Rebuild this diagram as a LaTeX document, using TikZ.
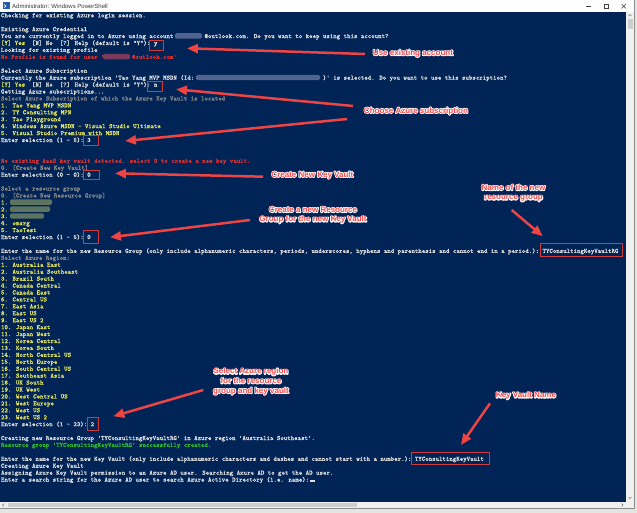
\documentclass[tikz,border=0pt]{standalone}
\usepackage{fontspec}
\setmainfont{Liberation Sans}
\newfontfamily\cons{lmmono10-regular}[Extension=.otf, AutoFakeBold=1.0]
\usetikzlibrary{arrows.meta,calc}
\definecolor{psbg}{HTML}{012456}
\definecolor{psfg}{HTML}{E2E2E2}
\definecolor{psyel}{HTML}{E8E85E}
\definecolor{psred}{HTML}{E03232}
\definecolor{psgray}{HTML}{8C8C8C}
\definecolor{psgreen}{HTML}{30C030}
\definecolor{boxred}{HTML}{D03A3A}
\definecolor{labred}{HTML}{FF4545}
\definecolor{arrred}{HTML}{EE4444}
\definecolor{framec}{HTML}{E2E5E0}
\definecolor{sbc}{HTML}{F0F0F0}
\definecolor{thumbc}{HTML}{CDCDCD}
\definecolor{blurwc}{HTML}{50648F}
\definecolor{blurrc}{HTML}{7A3A5E}
\definecolor{bluryc}{HTML}{5D7560}
\definecolor{iconc}{HTML}{285AAA}
\newcommand\LY[1]{17.3+6.93*#1}
\newcommand\yl[1]{\textcolor{psyel}{#1}}
\newcommand\halo[1]{\leavevmode\rlap{\color{white}\special{pdf:literal direct 1 Tr 1.7 w 1 j 1 J}#1\special{pdf:literal direct 0 Tr}}{\color{labred}#1}}
\begin{document}
\begin{tikzpicture}[x=1pt,y=-1pt,
  ln/.style={anchor=base west, inner sep=0pt, outer sep=0pt, font=\cons\bfseries\fontsize{6.57}{6.93}\selectfont, text=psfg},
  inbox/.style={draw=boxred, line width=0.9pt, anchor=north west, inner sep=0pt, outer sep=0pt},
  lab/.style={font=\fontsize{8}{9.6}\selectfont\bfseries, align=center, inner sep=0pt},
  arr/.style={draw=arrred, line width=2.5pt, -{Triangle[length=11pt,width=9pt]}},
  ctl/.style={draw=black!75, line width=0.5pt},
  sbarrow/.style={draw=black!55, line width=0.5pt}]
\useasboundingbox (0,0) rectangle (637,513);
% window frame
\fill[framec] (0,0) rectangle (637,513);
\fill[white] (0,0) rectangle (634,12);
\fill[psbg] (0,12) rectangle (626,502);
\fill[sbc] (626,12) rectangle (634,508);
\fill[sbc] (0,502) rectangle (626,508);
\fill[thumbc] (627.5,19) rectangle (632.5,29);
\fill[thumbc] (8,503.3) rectangle (357,506.7);
\draw[sbarrow] (628.5,16) -- (630,14.5) -- (631.5,16);
\draw[sbarrow] (628.5,497) -- (630,498.5) -- (631.5,497);
\draw[sbarrow] (4,503.5) -- (2.5,505) -- (4,506.5);
\draw[sbarrow] (621.5,503.5) -- (623,505) -- (621.5,506.5);
\draw[black!45, line width=0.8pt] (634.4,0) -- (634.4,508.4) -- (0,508.4);
% title bar
\fill[iconc] (2.5,2.5) rectangle (9.5,9.5);
\draw[white, line width=0.6pt] (4,4.3) -- (6,6) -- (4,7.7);
\node[anchor=west, font=\fontsize{6}{7}\selectfont, text=black!78, inner sep=0pt] (title) at (12,6) {Administrator: Windows PowerShell};
\draw[ctl] (586,6.3) -- (591,6.3);
\draw[ctl] (604,3.8) rectangle (608.5,8.3);
\draw[ctl] (621.5,4) -- (626,8.5) (626,4) -- (621.5,8.5);
% console text
\node[ln] (L0) at (1,\LY{0}) {Checking for existing Azure login session.};
\node[ln] (L2) at (1,\LY{2}) {Existing Azure Credential};
\node[ln] (L3) at (1,\LY{3}) {You are currently logged in to Azure using account \phantom{xxxxxxxx}@outlook.com. Do you want to keep using this account?};
\node[ln] (L4) at (1,\LY{4}) {\yl{[Y] Yes}~~[N] No~~[?] Help (default is "Y"):~y};
\node[ln] (L5) at (1,\LY{5}) {Looking for existing profile};
\node[ln, text=psred] (L6) at (1,\LY{6}) {No Profile is found for user '\phantom{xxxxxxxx}@outlook.com'};
\node[ln] (L8) at (1,\LY{8}) {Select Azure Subscription};
\node[ln] (L9) at (1,\LY{9}) {Currently the Azure subscription 'Tao Yang MVP MSDN (Id: \phantom{xxxxxxxxxxxxxxxxxxxxxxxxxxxxxxxxxxxx})' is selected. Do you want to use this subscription?};
\node[ln] (L10) at (1,\LY{10}) {\yl{[Y] Yes}~~[N] No~~[?] Help (default is "Y"):~n};
\node[ln] (L11) at (1,\LY{11}) {Getting Azure subscriptions...};
\node[ln, text=psgray] (L12) at (1,\LY{12}) {Select Azure Subscription of which the Azure Key Vault is located};
\node[ln, text=psyel] (L13) at (1,\LY{13}) {1. Tao Yang MVP MSDN};
\node[ln, text=psyel] (L14) at (1,\LY{14}) {2. TY Consulting MPN};
\node[ln, text=psyel] (L15) at (1,\LY{15}) {3. Tao Playground};
\node[ln, text=psyel] (L16) at (1,\LY{16}) {4. Windows Azure MSDN - Visual Studio Ultimate};
\node[ln, text=psyel] (L17) at (1,\LY{17}) {5. Visual Studio Premium with MSDN};
\node[ln] (L18) at (1,\LY{18}) {Enter selection (1 - 5):~3};
\node[ln, text=psred] (L21) at (1,\LY{21}) {No existing AaaS key vault detected. select 0 to create a new key vault.};
\node[ln, text=psgray] (L22) at (1,\LY{22}) {0. [Create New Key Vault]};
\node[ln] (L23) at (1,\LY{23}) {Enter selection (0 - 0):~0};
\node[ln, text=psgray] (L25) at (1,\LY{25}) {Select a resource group};
\node[ln, text=psgray] (L26) at (1,\LY{26}) {0. [Create New Resource Group]};
\node[ln, text=psyel] (L27) at (1,\LY{27}) {1.};
\node[ln, text=psyel] (L28) at (1,\LY{28}) {2.};
\node[ln, text=psyel] (L29) at (1,\LY{29}) {3.};
\node[ln, text=psyel] (L30) at (1,\LY{30}) {4. omsrg};
\node[ln, text=psyel] (L31) at (1,\LY{31}) {5. TaoTest};
\node[ln] (L32) at (1,\LY{32}) {Enter selection (1 - 5):~0};
\node[ln] (L34) at (1,\LY{34}) {Enter the name for the new Resource Group (only include alphanumeric characters, periods, underscores, hyphens and parenthesis and cannot end in a period.):~TYConsultingKeyVaultRG};
\node[ln, text=psgray] (L35) at (1,\LY{35}) {Select Azure Region:};
\foreach \nm [count=\i] in {Australia East, Australia Southeast, Brazil South, Canada Central, Canada East, Central US, East Asia, East US, East US 2, Japan East, Japan West, Korea Central, Korea South, North Central US, North Europe, South Central US, Southeast Asia, UK South, UK West, West Central US, West Europe, West US, West US 2}
  {\node[ln, text=psyel] (reg\i) at (1,{17.3+6.93*(35+\i)}) {\i. \nm};}
\node[ln] (L59) at (1,\LY{59}) {Enter selection (1 - 23):~2};
\node[ln] (L61) at (1,\LY{61}) {Creating new Resource Group 'TYConsultingKeyVaultRG' in Azure region 'Australia Southeast'.};
\node[ln, text=psgreen] (L62) at (1,\LY{62}) {Resource group 'TYConsultingKeyVaultRG' successfully created.};
\node[ln] (L64) at (1,\LY{64}) {Enter the name for the new Key Vault (only include alphanumeric characters and dashes and cannot start with a number.):~TYConsultingKeyVault};
\node[ln] (L65) at (1,\LY{65}) {Creating Azure Key Vault};
\node[ln] (L66) at (1,\LY{66}) {Assigning Azure Key Vault permission to an Azure AD user. Searching Azure AD to get the AD user.};
\node[ln] (L67) at (1,\LY{67}) {Enter a search string for the Azure AD user to search Azure Active Directory (i.e. name):};
\fill[psfg] (310,480.2) rectangle (314.5,482);
% blurred parts
\fill[blurwc, rounded corners=1.5pt] (175,33.2) rectangle (202,38.6);
\fill[blurrc, rounded corners=1.5pt] (103,54) rectangle (130,59.4);
\fill[blurwc, rounded corners=1.5pt] (196,74.8) rectangle (320,80.2);
\fill[bluryc, rounded corners=1.5pt] (10,199.5) rectangle (52,204.9);
\fill[bluryc, rounded corners=1.5pt] (10,206.4) rectangle (50,211.8);
\fill[bluryc, rounded corners=1.5pt] (10,213.3) rectangle (44,218.7);
% input boxes
\node[inbox, minimum width=14pt, minimum height=10pt] (b1) at (149.5,40) {};
\node[inbox, minimum width=14.5pt, minimum height=10pt] (b2) at (147.5,81) {};
\node[inbox, minimum width=15.5pt, minimum height=10pt] (b3) at (83,135.5) {};
\node[inbox, minimum width=15.5pt, minimum height=9.5pt] (b4) at (83.5,170) {};
\node[inbox, minimum width=15pt, minimum height=12.5pt] (b5) at (83.5,230.5) {};
\node[inbox, minimum width=82pt, minimum height=13pt] (b6) at (540.5,243.5) {};
\node[inbox, minimum width=10.5pt, minimum height=13pt] (b7) at (87.5,417) {};
\node[inbox, minimum width=78pt, minimum height=11.5pt] (b8) at (411,452.5) {};
% labels
\node[lab] (lab1) at (413,53.3) {\halo{Use existing account}};
\node[lab] (lab2) at (416,111) {\halo{Choose Azure subscription}};
\node[lab] (lab3) at (312.4,175) {\halo{Create New Key Vault}};
\node[lab] (lab4) at (313,215) {\halo{Create a new Resource}\\\halo{Group for the new Key Vault}};
\node[lab] (lab5) at (513.5,193) {\halo{Name of the new}\\\halo{resource group}};
\node[lab] (lab6) at (251,381.5) {\halo{Select Azure region}\\\halo{for the resource}\\\halo{group and key vault}};
\node[lab] (lab7) at (526,395.7) {\halo{Key Vault Name}};
% arrow tails
\coordinate (s1) at (365,54);
\coordinate (s2) at (353,106);
\coordinate (s3) at (347,119);
\coordinate (s4) at (263,176.7);
\coordinate (s5) at (250,220);
\coordinate (s6) at (511.7,210);
\coordinate (s7) at (203.3,390);
\coordinate (s8) at (490,403.3);
\draw[arr] (s1) -- ($(b1.east)+(23.5,3.3)$);
\draw[arr] (s2) -- ($(b2.east)+(14,3.3)$);
\draw[arr] (s3) -- ($(b3.east)+(26.5,0.5)$);
\draw[arr] (s4) -- ($(b4.east)+(16,-1.45)$);
\draw[arr] (s5) -- ($(b5.east)+(11.5,0.55)$);
\draw[arr] (s6) -- ($(b6.north west)+(2.2,-7.3)$);
\draw[arr] (s7) -- ($(b7.east)+(15.3,-7.2)$);
\draw[arr] (s8) -- ($(b8.north)+(11,-7.5)$);
\end{tikzpicture}
\end{document}
